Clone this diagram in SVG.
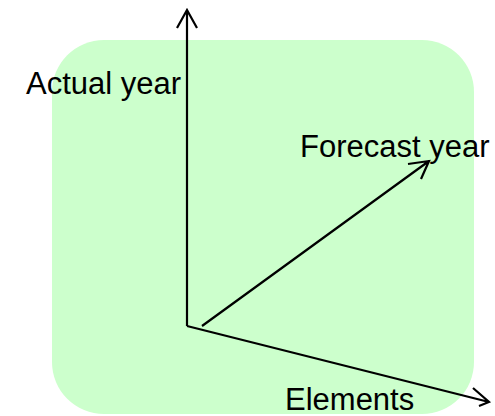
<svg xmlns="http://www.w3.org/2000/svg" width="495" height="416" viewBox="0 0 495 416">
<style>
.ax{stroke:#000;stroke-width:2.2;fill:none;stroke-linecap:butt}
.lbl{font-family:"Liberation Sans",Arial,sans-serif;font-size:31px;fill:#000}
</style>
<rect width="495" height="416" fill="#fff"/>
<g id="background"><rect x="52" y="40" width="422" height="374" rx="52" ry="52" fill="#CCFFCC"/></g>
<g id="connectors">
<path class="ax" d="M187,326 V10 M177,28 L187,10 L197,28"/>
<path class="ax" d="M202,326 L429,161 M408,164 L429,161 L421,179"/>
<path class="ax" d="M187,326 L489,402 M473,388 L489,402 L479,406"/>
</g>
<g id="actual"><text class="lbl" x="26" y="94">Actual year</text></g>
<g id="forecast"><text class="lbl" x="300" y="157">Forecast year</text></g>
<g id="elements"><text class="lbl" x="285" y="410">Elements</text></g>
</svg>
